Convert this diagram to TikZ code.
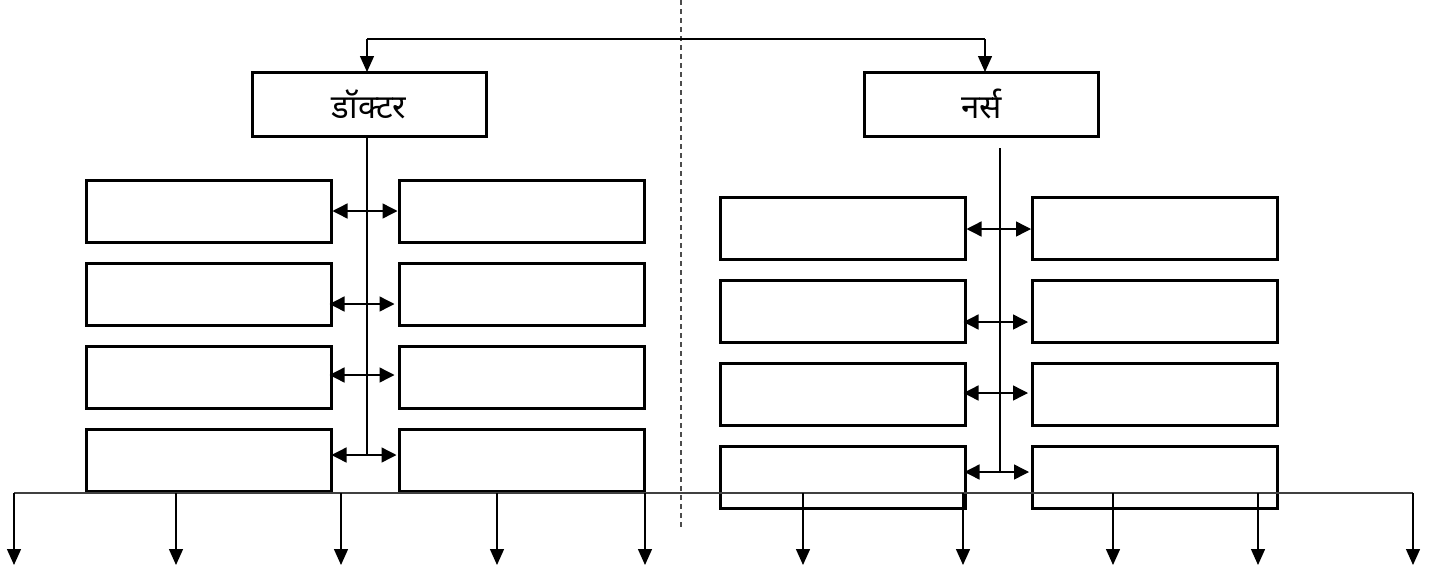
\documentclass[tikz,border=0pt]{standalone}
\usepackage{fontspec}
\newfontfamily\devfont[Script=Devanagari]{Noto Sans}
\usetikzlibrary{arrows.meta}
\begin{document}
\begin{tikzpicture}[x=1pt,y=-1pt,
  box/.style={draw,line width=3pt,minimum width=245pt,minimum height=62pt,inner sep=0pt},
  head/.style={draw,line width=3pt,minimum width=234pt,minimum height=64pt,inner sep=0pt,font=\devfont\fontsize{33}{36}\selectfont},
  conn/.style={line width=1.4pt},
  tip/.style={-{Triangle[length=16pt,width=14pt]}},
  dbl/.style={{Triangle[length=15pt,width=15pt]}-{Triangle[length=15pt,width=15pt]}}]
\useasboundingbox (0,0) rectangle (1448,573);
% divider
\draw[line width=1.2pt,dash pattern=on 5pt off 4pt,black!70] (681,0) -- (681,530);
% heads
\node[head] (doc) at (369,104) {डॉक्टर};
\node[head] (nur) at (981.5,104) {नर्स};
\coordinate (tl) at (367,39);
\coordinate (tr) at (985,39);
\draw[conn] (tl) -- (tr);
\draw[conn,tip] (tl) -- (367,72);
\draw[conn,tip] (tr) -- (985,72);
% doctor boxes
\foreach \i/\y in {1/211,2/294,3/377.5,4/460.5}{
  \node[box] (dl\i) at (208.5,\y) {};
  \node[box] (dr\i) at (521.5,\y) {};
}
\coordinate (dv) at (367,455);
\draw[conn] (doc.south -| dv) -- (dv);
\draw[conn,dbl] (dl1.east) -- (dr1.west);
\draw[conn,dbl] ([shift={(-3,10)}]dl2.east) -- ([shift={(-3,10)}]dr2.west);
\draw[conn,dbl] ([shift={(-3,-2.5)}]dl3.east) -- ([shift={(-3,-2.5)}]dr3.west);
\draw[conn,dbl] ([shift={(-1,-5.5)}]dl4.east) -- ([shift={(-1,-5.5)}]dr4.west);
% nurse boxes
\foreach \i/\y in {1/228.5,2/311.5,3/394.5,4/477.5}{
  \node[box] (nl\i) at (842.5,\y) {};
  \node[box] (nr\i) at (1155,\y) {};
}
\coordinate (nv0) at (1000,148);
\coordinate (nv) at (1000,472);
\draw[conn] (nv0) -- (nv);
\draw[conn,dbl] ([yshift=-0.5]nl1.east) -- ([yshift=-0.5]nr1.west);
\draw[conn,dbl] ([shift={(-3,10.5)}]nl2.east) -- ([shift={(-3,10.5)}]nr2.west);
\draw[conn,dbl] ([shift={(-3,-1.5)}]nl3.east) -- ([shift={(-3,-1.5)}]nr3.west);
\draw[conn,dbl] ([shift={(-2,-5.5)}]nl4.east) -- ([shift={(-2,-5.5)}]nr4.west);
% bottom bus
\coordinate (bl) at (14,493);
\coordinate (br) at (1413,493);
\draw[conn,black!75] (bl) -- (br);
\foreach \x in {14,176,341,497,645,803,963,1113,1258,1413}{
  \draw[conn,tip] (\x,493) -- (\x,565);
}
\end{tikzpicture}
\end{document}
